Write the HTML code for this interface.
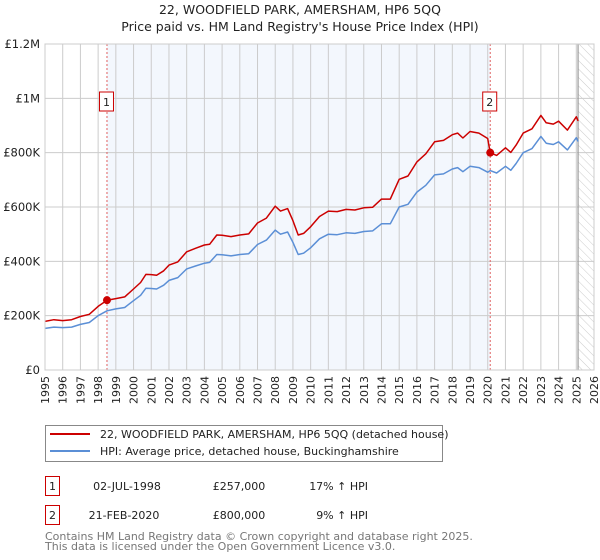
<!DOCTYPE html>
<html><head><meta charset="utf-8"><style>
body{margin:0;background:#fff}
svg{display:block;font-family:"DejaVu Sans","Liberation Sans",sans-serif}
</style></head><body>
<svg id="chart" width="600" height="560" viewBox="0 0 600 560">
<defs><pattern id="hatch" width="6" height="6" patternUnits="userSpaceOnUse" patternTransform="rotate(-45)"><line x1="0" y1="0" x2="0" y2="6" stroke="#ccc" stroke-width="1"/></pattern></defs>
<text x="300" y="14" text-anchor="middle" font-size="12.5" fill="#222">22, WOODFIELD PARK, AMERSHAM, HP6 5QQ</text>
<text x="300" y="31" text-anchor="middle" font-size="12.5" fill="#222">Price paid vs. HM Land Registry's House Price Index (HPI)</text>
<g id="plot"></g>
<g>
<rect x="45.5" y="425.5" width="397" height="36" fill="#fff" stroke="#888"/>
<line x1="50" y1="434" x2="90" y2="434" stroke="#cc0000" stroke-width="2"/>
<text x="100" y="438" font-size="11" fill="#222">22, WOODFIELD PARK, AMERSHAM, HP6 5QQ (detached house)</text>
<line x1="50" y1="451" x2="90" y2="451" stroke="#5b8fd6" stroke-width="2"/>
<text x="100" y="455" font-size="11" fill="#222">HPI: Average price, detached house, Buckinghamshire</text>
</g>
<g font-size="11" fill="#222">
<rect x="45.5" y="476.5" width="14" height="19" fill="#fff" stroke="#cc0000"/>
<text x="52.5" y="490" text-anchor="middle">1</text>
<text x="127" y="490" text-anchor="middle">02-JUL-1998</text>
<text x="239" y="490" text-anchor="middle">£257,000</text>
<text x="368" y="490" text-anchor="end">17% ↑ HPI</text>
<rect x="45.5" y="505.5" width="14" height="19" fill="#fff" stroke="#cc0000"/>
<text x="52.5" y="519" text-anchor="middle">2</text>
<text x="124" y="519" text-anchor="middle">21-FEB-2020</text>
<text x="239" y="519" text-anchor="middle">£800,000</text>
<text x="368" y="519" text-anchor="end">9% ↑ HPI</text>
</g>
<text x="45" y="540" font-size="11" fill="#777">Contains HM Land Registry data © Crown copyright and database right 2025.</text>
<text x="45" y="550" font-size="11" fill="#777">This data is licensed under the Open Government Licence v3.0.</text>
</svg>
<script>
const years=[1995,1995.5,1996,1996.5,1997,1997.5,1998,1998.5,1999,1999.5,2000,2000.4,2000.7,2001,2001.3,2001.7,2002,2002.5,2003,2003.5,2004,2004.3,2004.7,2005,2005.5,2006,2006.5,2007,2007.5,2008,2008.3,2008.7,2009,2009.3,2009.6,2010,2010.5,2011,2011.5,2012,2012.5,2013,2013.5,2014,2014.5,2015,2015.5,2016,2016.5,2017,2017.5,2018,2018.3,2018.6,2019,2019.5,2020,2020.14,2020.5,2021,2021.3,2021.6,2022,2022.5,2023,2023.3,2023.7,2024,2024.5,2025,2025.1];
const hpiValues=[153,158,156,158,168,175,200,218,225,230,255,275,301,300,298,312,330,340,372,383,393,396,425,424,420,425,428,462,478,515,500,508,470,425,430,450,483,500,498,505,503,510,512,538,538,600,610,655,680,718,722,740,745,730,750,745,728,734,725,750,735,760,800,815,860,835,830,840,810,855,841];
const propertyValues=[179,185,182,185,197,205,234,257,263,269,298,322,352,351,349,365,386,398,435,448,460,463,497,496,491,497,501,541,559,603,585,594,550,497,503,527,565,585,583,591,589,597,599,629,629,702,714,766,796,840,845,866,872,854,878,872,852,800,790,818,801,828,872,888,937,910,905,916,883,932,917];
const yTicks=[0,200,400,600,800,1000,1200];
const yTickLabels=["£0","£200K","£400K","£600K","£800K","£1M","£1.2M"];
const xTicks=[1995,1996,1997,1998,1999,2000,2001,2002,2003,2004,2005,2006,2007,2008,2009,2010,2011,2012,2013,2014,2015,2016,2017,2018,2019,2020,2021,2022,2023,2024,2025,2026];
const sales=[{t:1998.5,v:257,label:"1"},{t:2020.14,v:800,label:"2"}];
const NS="http://www.w3.org/2000/svg";
const X0=45,X1=594,Y0=370,Y1=44;
const sx=t=>X0+(t-1995)/(2026-1995)*(X1-X0);
const sy=v=>Y0-v/1200*(Y0-Y1);
const g=document.getElementById('plot');
function mk(tag,attrs){const e=document.createElementNS(NS,tag);for(const k in attrs)e.setAttribute(k,attrs[k]);g.appendChild(e);return e;}
let e;
e=mk('rect',{x:sx(1998.5),y:Y1,width:sx(2020.14)-sx(1998.5),height:Y0-Y1,fill:'#eef3fc',opacity:0.7});


e=mk('rect',{x:sx(2025.1),y:Y1,width:X1-sx(2025.1),height:Y0-Y1,fill:'url(#hatch)'});


xTicks.forEach(t=>{
 e=mk('line',{x1:sx(t),x2:sx(t),y1:Y1,y2:Y0,stroke:'#ccc','stroke-width':1});
 
 
 e=mk('text',{x:0,y:0,'font-size':11,fill:'#222','text-anchor':'end',transform:`translate(${sx(t)+4},${Y0+6}) rotate(-90)`});
 e.textContent=t;
 
 
});
yTicks.forEach((v,i)=>{
 e=mk('line',{x1:X0,x2:X1,y1:sy(v),y2:sy(v),stroke:'#ccc','stroke-width':1});
 
 
 e=mk('text',{x:40,y:sy(v)+4,'font-size':11.5,fill:'#222','text-anchor':'end'});
 e.textContent=yTickLabels[i];
 
 
});
e=mk('line',{x1:sx(2025.1),x2:sx(2025.1),y1:Y1,y2:Y0,stroke:'#999','stroke-width':1.2});


sales.forEach(s=>{
 e=mk('line',{x1:sx(s.t),x2:sx(s.t),y1:Y1,y2:Y0,stroke:'#e06060','stroke-width':1,'stroke-dasharray':'2,2'});
 
 
});
function path(vals,color,name){
 const d=years.map((t,i)=>(i?'L':'M')+sx(t).toFixed(1)+','+sy(vals[i]).toFixed(1)).join('');
 e=mk('path',{d:d,fill:'none',stroke:color,'stroke-width':1.5,'stroke-linejoin':'round'});
 
 
}
path(hpiValues,'#5b8fd6','hpi-line');
path(propertyValues,'#cc0000','property-line');
sales.forEach(s=>{
 e=mk('circle',{cx:sx(s.t),cy:sy(s.v),r:4,fill:'#cc0000'});
 
 
 e=mk('rect',{x:sx(s.t)-7.5,y:92,width:14,height:19,fill:'#fff',stroke:'#cc0000'});
 
 
 e=mk('text',{x:sx(s.t)-0.5,y:106,'font-size':11,fill:'#222','text-anchor':'middle'});
 e.textContent=s.label;
 
 
});
e=mk('rect',{x:X0,y:Y1,width:X1-X0,height:Y0-Y1,fill:'none',stroke:'#ccc'});


</script>
</body></html>
